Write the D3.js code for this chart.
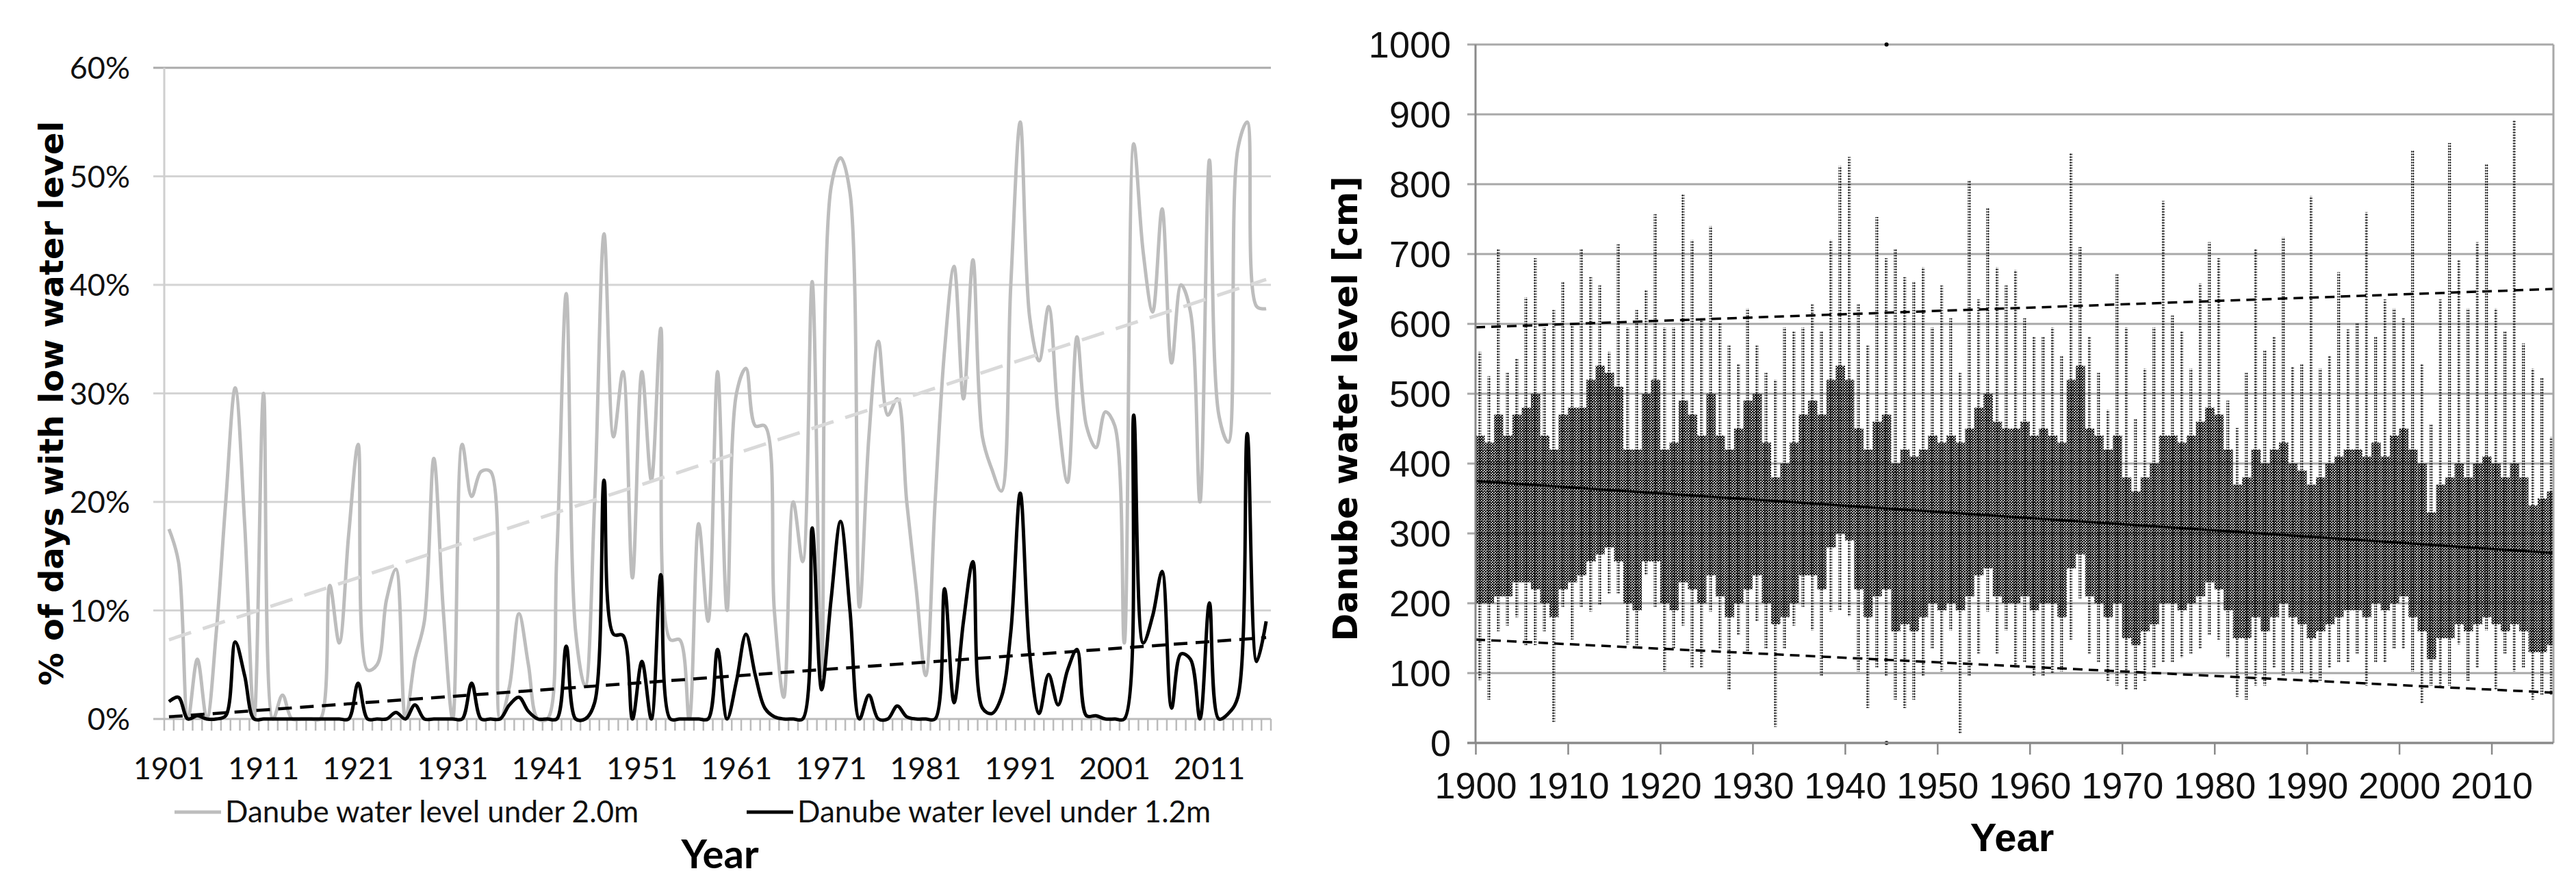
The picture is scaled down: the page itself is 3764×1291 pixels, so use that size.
<!DOCTYPE html>
<html>
<head>
<meta charset="utf-8">
<script src="https://cdn.jsdelivr.net/npm/d3@7"></script>
<style>
  body { margin: 0; background: #fff; }
  svg { display: block; }
</style>
</head>
<body>
<script>
// ---- left chart: % of days with low water level (1901-2017)
var yearsL = d3.range(1901, 2018);
var under20 = [17.5,14.5,0,5.5,0,8,20,30.5,18,0, 30,0,2.2,0,0,0,0,12.3,7,17,
  25.3,4.5,5,11,13.8,0,5.5,9,24,10, 0,25.3,20.5,22.8,22.8,0,3,9.7,5,0,
  0,15,39.2,8,3,20,44.7,26,32,13, 32,22,36,7.3,7.3,0,18,9,32,10,
  30,32.3,27,27,10,2,20,14.5,40.3,4, 49,51.7,48.5,10.3,26,34.8,28,29.5,20,12,
  4,20,34,41.7,29.5,42.3,26,23,21,40, 55,37,33,38,28,21.8,35.2,27,25,28.3,
  27,7,53,43,37.5,47,32.8,40,37.5,20, 51.5,28,25.5,52.5,55,38,37.8];
var under12 = [1.6,2.0,0,0.3,0,0,0.3,7.1,4,0, 0,0,0,0,0,0,0,0,0,0,
  3.3,0,0,0,0.6,0,1.3,0,0,0, 0,0,3.3,0,0,0,1.3,2.0,0.7,0,
  0,0,6.7,0,0,1.5,22,7.8,7.7,0, 5.3,0,13.3,0,0,0,0,0,6.4,0,
  3.5,7.8,4,1,0.2,0,0,0,17.6,2.7, 11,18.2,10,0,2.2,0,0,1.2,0.2,0,
  0,0,12,1.5,9,14.5,1,0.5,2,8, 20.8,6,0.5,4.1,1.3,4.5,6.4,0.3,0.3,0,
  0,0,28,7,9.5,13.6,1,6,5.5,0, 10.7,0,0.5,2,26.3,5.3,9];
var trend20 = [7.3, 40.5];   // trend line at first / last year
var trend12 = [0.2, 7.5];
var ticksL = [0, 10, 20, 30, 40, 50, 60];
var labelYearsL = [1901, 1911, 1921, 1931, 1941, 1951, 1961, 1971, 1981, 1991, 2001, 2011];

// ---- right chart: daily Danube water level, summarised per year
var yearsR = d3.range(1900, 2017);
var lastYearR = 2016.7;
var rMax = [560,525,707,530,550,638,694,595,620,660, 600,707,667,655,560,714,595,620,648,757,
  595,595,786,720,608,740,602,569,543,622, 569,530,520,595,589,595,628,589,720,826,
  839,628,569,753,694,707,667,661,681,595, 655,608,530,806,635,766,681,655,677,608,
  582,582,595,555,845,710,582,530,477,671, 595,464,536,595,776,612,589,536,658,717,
  694,490,451,530,707,562,582,724,539,543, 783,536,555,674,592,602,760,582,635,622,
  608,849,543,457,635,859,691,622,717,829, 622,589,891,572,536,523,438];
var rMin = [90,62,160,168,180,140,140,160,30,195, 148,195,188,197,214,214,141,135,240,195,
  102,135,168,108,108,188,135,76,155,128, 174,135,23,135,168,195,161,95,188,190,
  181,102,50,108,95,62,50,62,95,135, 102,161,13,95,128,188,128,161,108,115,
  95,95,99,102,148,207,128,115,89,82, 76,76,89,108,115,115,122,128,135,155,
  148,122,66,62,82,82,108,95,102,99, 86,89,108,115,115,128,82,115,115,135,
  135,102,56,82,82,82,141,89,108,161, 76,128,102,108,62,69,69];
var rLo = [200,200,210,210,230,230,220,200,180,220, 230,240,260,270,280,260,200,190,260,260,
  200,190,230,220,200,240,210,180,200,220, 240,200,170,180,200,240,240,220,280,300,
  290,220,180,210,220,160,170,160,180,200, 190,200,190,210,240,250,210,200,200,210,
  190,200,200,180,250,270,210,200,180,200, 150,140,160,170,200,200,190,200,210,230,
  220,190,150,150,180,160,180,200,180,170, 150,160,170,180,190,190,180,200,190,200,
  210,180,160,120,150,150,170,160,170,180, 170,160,170,160,130,130,140];
var rHi = [440,430,470,440,470,480,500,440,420,470, 480,480,520,540,530,510,420,420,500,520,
  420,430,490,470,440,500,440,420,450,490, 500,430,380,400,430,470,490,470,520,540,
  520,450,420,460,470,400,420,410,420,440, 430,440,430,450,480,500,460,450,450,460,
  440,450,440,430,520,540,450,440,420,440, 380,360,380,400,440,440,430,440,460,480,
  470,420,370,380,420,400,420,430,400,390, 370,380,400,410,420,420,410,430,410,440,
  450,420,400,330,370,380,400,380,400,410, 400,380,400,380,340,350,360];
var outliersR = [[1944, 1000], [1944, 0]];
var trendMid = [375, 272];    // at 1900 / lastYearR
var trendUp = [595, 650];
var trendLow = [148, 72];
var ticksR = [0, 100, 200, 300, 400, 500, 600, 700, 800, 900, 1000];
var labelYearsR = [1900, 1910, 1920, 1930, 1940, 1950, 1960, 1970, 1980, 1990, 2000, 2010];

var width = 3764, height = 1291;
var fontL = "Lato, 'Open Sans', sans-serif";
var fontR = "'Liberation Sans Narrow', 'Arial Narrow', 'Liberation Sans', sans-serif";
var fontTitle = "'DejaVu Sans', Verdana, sans-serif";

var svg = d3.select("body").append("svg")
  .attr("width", width).attr("height", height);
svg.append("rect").attr("width", width).attr("height", height).attr("fill", "#fff");

// dot textures for the daily-value cloud
var defs = svg.append("defs");
function dotPattern(id, w, h, r, pts) {
  var p = defs.append("pattern").attr("id", id)
    .attr("patternUnits", "userSpaceOnUse").attr("width", w).attr("height", h);
  pts.forEach(function(c) {
    p.append("circle").attr("cx", c[0]).attr("cy", c[1]).attr("r", r).attr("fill", "#000");
  });
}
dotPattern("dense", 4, 4, 1.45, [[1, 1], [3, 3]]);
dotPattern("mid", 3, 4, 1.2, [[1.5, 1.5]]);

// =================== LEFT CHART ===================
var xL = d3.scaleBand().domain(yearsL).range([240, 1857]);
var yL = d3.scaleLinear().domain([0, 60]).range([1050, 99]);
var cx = function(y) { return xL(y) + xL.bandwidth() / 2; };

var gL = svg.append("g");

// gridlines
gL.selectAll("line.grid").data(ticksL.slice(1)).join("line")
  .attr("x1", 224).attr("x2", 1857)
  .attr("y1", function(d) { return yL(d); }).attr("y2", function(d) { return yL(d); })
  .attr("stroke", function(d) { return d == 60 ? "#aaa" : "#d4d4d4"; })
  .attr("stroke-width", 3);

// y axis line
gL.append("line").attr("x1", 240).attr("x2", 240).attr("y1", yL(60)).attr("y2", yL(0))
  .attr("stroke", "#cfcfcf").attr("stroke-width", 3);

// y labels
var axL = gL.append("g").attr("transform", "translate(240,0)")
  .call(d3.axisLeft(yL).tickValues(ticksL).tickSize(0).tickPadding(50)
    .tickFormat(function(d) { return d + "%"; }));
axL.select(".domain").remove();
axL.selectAll("text").attr("font-family", fontL).attr("font-size", 45).attr("fill", "#111")
  .attr("dy", "0.35em");

// x axis line + category ticks
gL.append("line").attr("x1", 224).attr("x2", 1857).attr("y1", yL(0)).attr("y2", yL(0))
  .attr("stroke", "#bbb").attr("stroke-width", 3);
gL.selectAll("line.tick").data(yearsL.concat([2018])).join("line")
  .attr("x1", function(d) { return d == 2018 ? 1857 : xL(d); })
  .attr("x2", function(d) { return d == 2018 ? 1857 : xL(d); })
  .attr("y1", yL(0)).attr("y2", yL(0) + 17)
  .attr("stroke", "#bbb").attr("stroke-width", 2.5);

var axLx = gL.append("g").attr("transform", "translate(0," + yL(0) + ")")
  .call(d3.axisBottom(xL).tickValues(labelYearsL).tickSize(0).tickPadding(56));
axLx.select(".domain").remove();
axLx.selectAll("text").attr("font-family", fontL).attr("font-size", 45).attr("fill", "#111");

// trend lines
function trendPath(g, vals, color, dash, w) {
  g.append("line")
    .attr("x1", cx(yearsL[0])).attr("x2", cx(yearsL[yearsL.length - 1]))
    .attr("y1", yL(vals[0])).attr("y2", yL(vals[1]))
    .attr("stroke", color).attr("stroke-width", w).attr("stroke-dasharray", dash);
}

var lineL = d3.line()
  .x(function(d, i) { return cx(yearsL[i]); })
  .y(function(d) { return yL(d); })
  .curve(d3.curveCatmullRom.alpha(0.5));

gL.append("path").datum(under20).attr("d", lineL)
  .attr("fill", "none").attr("stroke", "#bdbdbd").attr("stroke-width", 5);
trendPath(gL, trend20, "#d9d9d9", "34,18", 5);
gL.append("path").datum(under12).attr("d", lineL)
  .attr("fill", "none").attr("stroke", "#000").attr("stroke-width", 5);
trendPath(gL, trend12, "#000", "20,12", 4.5);

// legend
var legend = [
  { x: 255, label: "Danube water level under 2.0m", color: "#bdbdbd" },
  { x: 1091, label: "Danube water level under 1.2m", color: "#000" }
];
var lg = gL.selectAll("g.leg").data(legend).join("g");
lg.append("line").attr("x1", function(d) { return d.x; }).attr("x2", function(d) { return d.x + 68; })
  .attr("y1", 1186).attr("y2", 1186).attr("stroke", function(d) { return d.color; })
  .attr("stroke-width", 5);
lg.append("text").attr("x", function(d) { return d.x + 74; }).attr("y", 1201)
  .attr("font-family", fontL).attr("font-size", 44).attr("fill", "#111")
  .text(function(d) { return d.label; });

gL.append("text").attr("x", 1052).attr("y", 1268).attr("text-anchor", "middle")
  .attr("font-family", fontL).attr("font-weight", "bold").attr("font-size", 58)
  .text("Year");
gL.append("text").attr("transform", "translate(92,589) rotate(-90)")
  .attr("text-anchor", "middle").attr("font-family", fontTitle).attr("font-weight", "bold")
  .attr("font-size", 48).text("% of days with low water level");

// =================== RIGHT CHART ===================
var xR = d3.scaleLinear().domain([1900, lastYearR]).range([2156, 3731]);
var yR = d3.scaleLinear().domain([0, 1000]).range([1085, 65]);

var gR = svg.append("g");

gR.selectAll("line.grid").data(ticksR.slice(1)).join("line")
  .attr("x1", 2144).attr("x2", 3731)
  .attr("y1", function(d) { return yR(d); }).attr("y2", function(d) { return yR(d); })
  .attr("stroke", "#a8a8a8").attr("stroke-width", 3);

// data cloud: a dotted streak to the yearly extremes, dense core
var yearEnd = function(d) { return xR(Math.min(d + 1, lastYearR)); };
var clampX = function(v) { return xR(Math.min(v, lastYearR)); };
gR.selectAll("rect.mid").data(yearsR).join("rect")
  .attr("x", function(d) { return clampX(d + 0.3); })
  .attr("width", function(d) { return clampX(d + 0.62) - clampX(d + 0.3); })
  .attr("y", function(d, i) { return yR(rMax[i]); })
  .attr("height", function(d, i) { return yR(rMin[i]) - yR(rMax[i]); })
  .attr("fill", "url(#mid)");
gR.selectAll("rect.core").data(yearsR).join("rect")
  .attr("x", function(d) { return xR(d); })
  .attr("width", function(d) { return yearEnd(d) - xR(d); })
  .attr("y", function(d, i) { return yR(rHi[i]); })
  .attr("height", function(d, i) { return yR(rLo[i]) - yR(rHi[i]); })
  .attr("fill", "url(#dense)");
gR.selectAll("circle.out").data(outliersR).join("circle")
  .attr("cx", function(d) { return xR(d[0] + 0.5); }).attr("cy", function(d) { return yR(d[1]); })
  .attr("r", 3).attr("fill", "#000");

// trend lines
function trendR(vals, dash) {
  gR.append("line").attr("x1", xR(1900)).attr("x2", xR(lastYearR))
    .attr("y1", yR(vals[0])).attr("y2", yR(vals[1]))
    .attr("stroke", "#000").attr("stroke-width", 3.5).attr("stroke-dasharray", dash);
}
trendR(trendUp, "14,9");
trendR(trendLow, "14,9");
trendR(trendMid, null);

// axes / frame
gR.append("line").attr("x1", xR(1900)).attr("x2", xR(1900)).attr("y1", yR(1000)).attr("y2", yR(0))
  .attr("stroke", "#8a8a8a").attr("stroke-width", 3);
gR.append("line").attr("x1", xR(lastYearR)).attr("x2", xR(lastYearR)).attr("y1", yR(1000)).attr("y2", yR(0))
  .attr("stroke", "#a8a8a8").attr("stroke-width", 3);
gR.append("line").attr("x1", 2144).attr("x2", xR(lastYearR)).attr("y1", yR(0)).attr("y2", yR(0))
  .attr("stroke", "#8a8a8a").attr("stroke-width", 3.5);

var axRy = gR.append("g").attr("transform", "translate(" + xR(1900) + ",0)")
  .call(d3.axisLeft(yR).tickValues(ticksR).tickSize(0).tickPadding(36)
    .tickFormat(d3.format("d")));
axRy.select(".domain").remove();
axRy.selectAll("text").attr("font-family", fontR).attr("font-size", 54).attr("fill", "#111")
  .attr("dy", "0.35em");

var axRx = gR.append("g").attr("transform", "translate(0," + yR(0) + ")")
  .call(d3.axisBottom(xR).tickValues(labelYearsR).tickSize(17).tickPadding(26)
    .tickFormat(d3.format("d")));
axRx.select(".domain").remove();
axRx.selectAll("line").attr("stroke", "#8a8a8a").attr("stroke-width", 2.5);
axRx.selectAll("text").attr("font-family", fontR).attr("font-size", 54).attr("fill", "#111");

gR.append("text").attr("x", 2940).attr("y", 1243).attr("text-anchor", "middle")
  .attr("font-family", fontR).attr("font-weight", "bold").attr("font-size", 58)
  .text("Year");
gR.append("text").attr("transform", "translate(1983,597) rotate(-90)")
  .attr("text-anchor", "middle").attr("font-family", fontTitle).attr("font-weight", "bold")
  .attr("font-size", 49).text("Danube water level [cm]");
</script>
</body>
</html>
